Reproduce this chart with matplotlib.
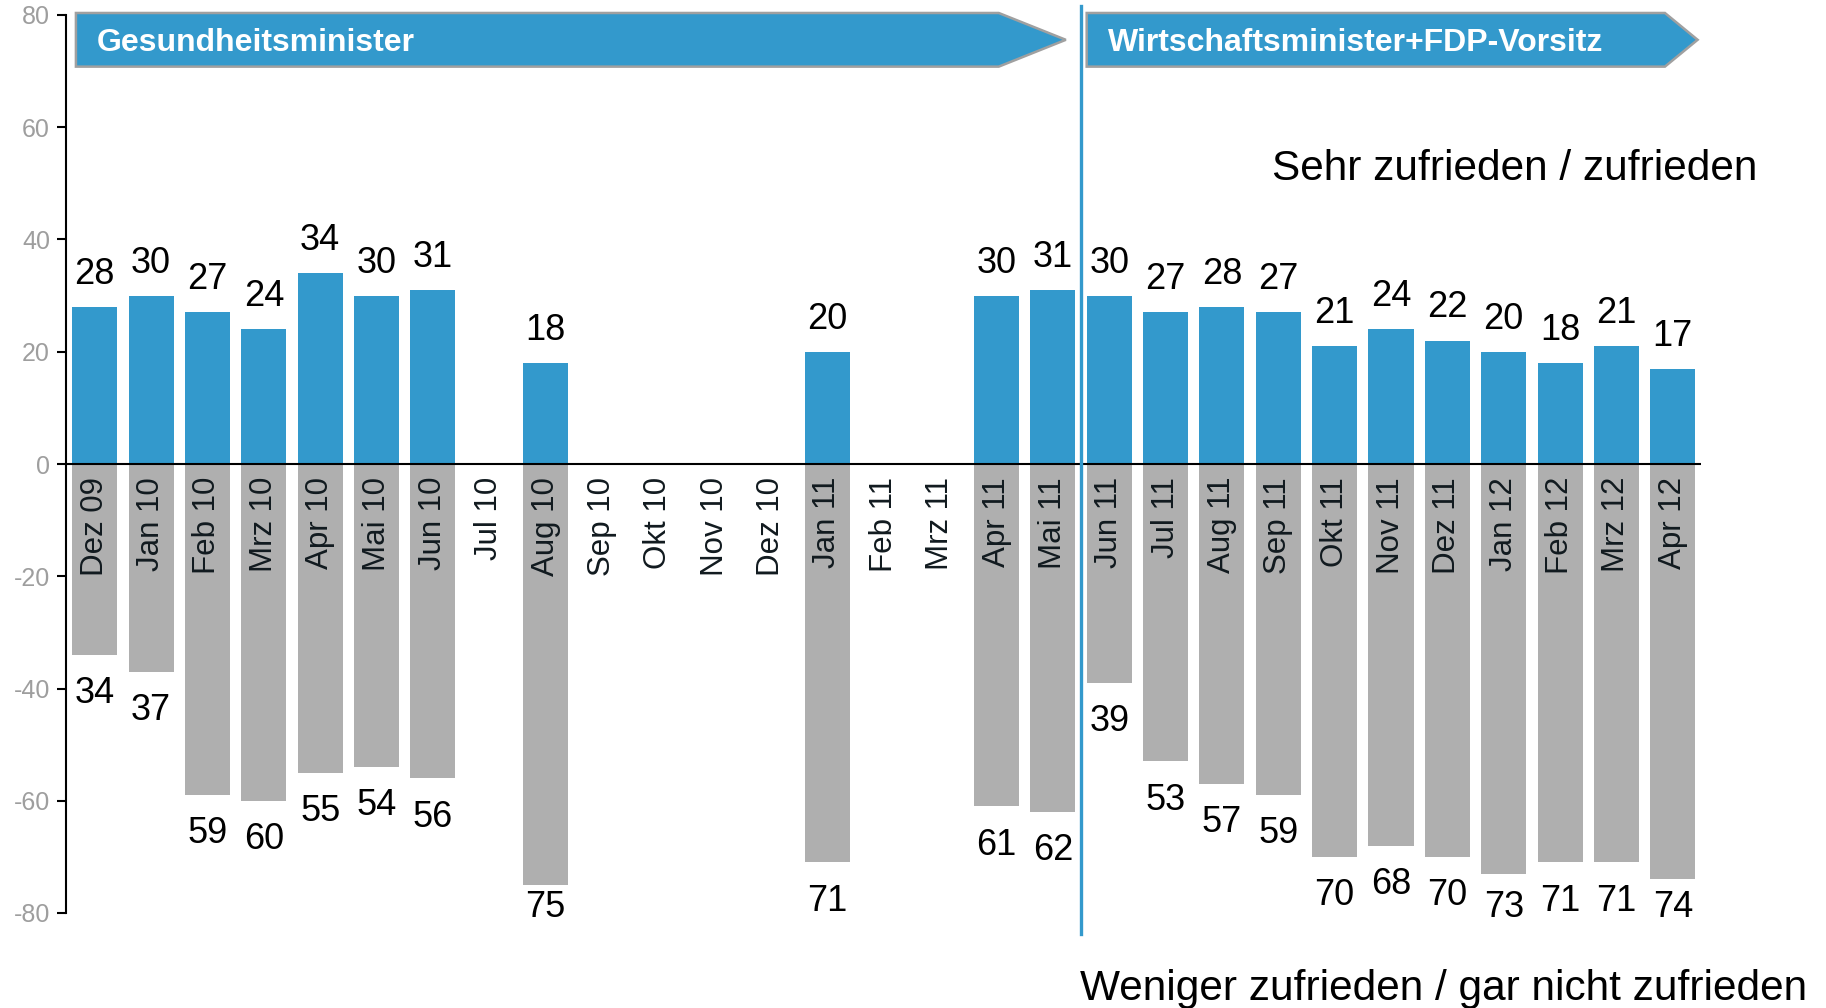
import numpy as np
import matplotlib
matplotlib.use("Agg")
import matplotlib.pyplot as plt
from matplotlib.patches import Polygon

plt.rcParams['font.family'] = ['Liberation Sans', 'DejaVu Sans']

months = ["Dez 09", "Jan 10", "Feb 10", "Mrz 10", "Apr 10", "Mai 10", "Jun 10", "Jul 10",
          "Aug 10", "Sep 10", "Okt 10", "Nov 10", "Dez 10", "Jan 11", "Feb 11", "Mrz 11",
          "Apr 11", "Mai 11", "Jun 11", "Jul 11", "Aug 11", "Sep 11", "Okt 11", "Nov 11",
          "Dez 11", "Jan 12", "Feb 12", "Mrz 12", "Apr 12"]
nan = np.nan
zufrieden = [28, 30, 27, 24, 34, 30, 31, nan, 18, nan, nan, nan, nan, 20, nan, nan,
             30, 31, 30, 27, 28, 27, 21, 24, 22, 20, 18, 21, 17]
unzufrieden = [34, 37, 59, 60, 55, 54, 56, nan, 75, nan, nan, nan, nan, 71, nan, nan,
               61, 62, 39, 53, 57, 59, 70, 68, 70, 73, 71, 71, 74]
yticks = [-80, -60, -40, -20, 0, 20, 40, 60, 80]
phase1 = "Gesundheitsminister"
phase2 = "Wirtschaftsminister+FDP-Vorsitz"
label_pos = "Sehr zufrieden / zufrieden"
label_neg = "Weniger zufrieden / gar nicht zufrieden"

BLUE = "#3399cc"
GRAY = "#afafaf"

W, H = 1826, 1008
fig = plt.figure(figsize=(W / 100, H / 100), dpi=100)
ax = fig.add_axes([66 / W, 95 / H, (1701 - 66) / W, (993 - 95) / H])

x = np.arange(len(months))
pos = np.array(zufrieden, dtype=float)
neg = np.array(unzufrieden, dtype=float)

ax.bar(x, pos, width=0.8, color=BLUE, zorder=2)
ax.bar(x, -neg, width=0.8, color=GRAY, zorder=2)
ax.axhline(0, color="black", lw=1.5, zorder=3)

for xi, v in zip(x, pos):
    if not np.isnan(v):
        ax.text(xi, v + 5.8, f"{int(v)}", ha="center", va="center", fontsize=26, color="black")
for xi, v in zip(x, neg):
    if not np.isnan(v):
        ax.text(xi, max(-v - 6.9, -79.1), f"{int(v)}", ha="center", va="center",
                fontsize=26, color="black")

for xi, m in zip(x, months):
    ax.text(xi, -2.3, m, rotation=90, ha="center", va="top", fontsize=22.5, color="#111a1f", zorder=4)

ax.set_xlim(-0.51, 28.5)
ax.set_ylim(-80, 80)
ax.set_yticks(yticks)
ax.set_yticklabels([str(t) for t in yticks])
ax.set_xticks([])
for s in ["top", "right", "bottom"]:
    ax.spines[s].set_visible(False)
ax.spines["left"].set_linewidth(1.5)
ax.tick_params(axis="y", direction="out", length=6.5, width=1.5, colors="black",
               labelcolor="#9e9e9e", labelsize=18, pad=5)

# Period divider
ax.plot([17.5, 17.5], [81.6, -83.7], color=BLUE, lw=2.4, clip_on=False, zorder=5)

# Banners
def banner(x0, x1, xtip, y0, y1, text):
    ym = (y0 + y1) / 2
    poly = Polygon([[x0, y0], [x1, y0], [xtip, ym], [x1, y1], [x0, y1]], closed=True,
                   facecolor=BLUE, edgecolor="#a0a0a0", lw=1.8, clip_on=False, zorder=6)
    ax.add_patch(poly)
    ax.text(x0 + 0.37, ym - 0.6, text, ha="left", va="center", fontsize=23,
            fontweight="bold", color="white", zorder=7, clip_on=False)

banner(-0.334, 16.04, 17.23, 70.8, 80.36, phase1)
banner(17.6, 27.86, 28.44, 70.8, 80.36, phase2)

fig.text(1757 / W, 1 - 169 / H, label_pos, ha="right", va="center", fontsize=30.5, color="black")
fig.text(1080 / W, 1 - 989 / H, label_neg, ha="left", va="center", fontsize=30.5, color="black")

fig.savefig("out.png", dpi=100)
